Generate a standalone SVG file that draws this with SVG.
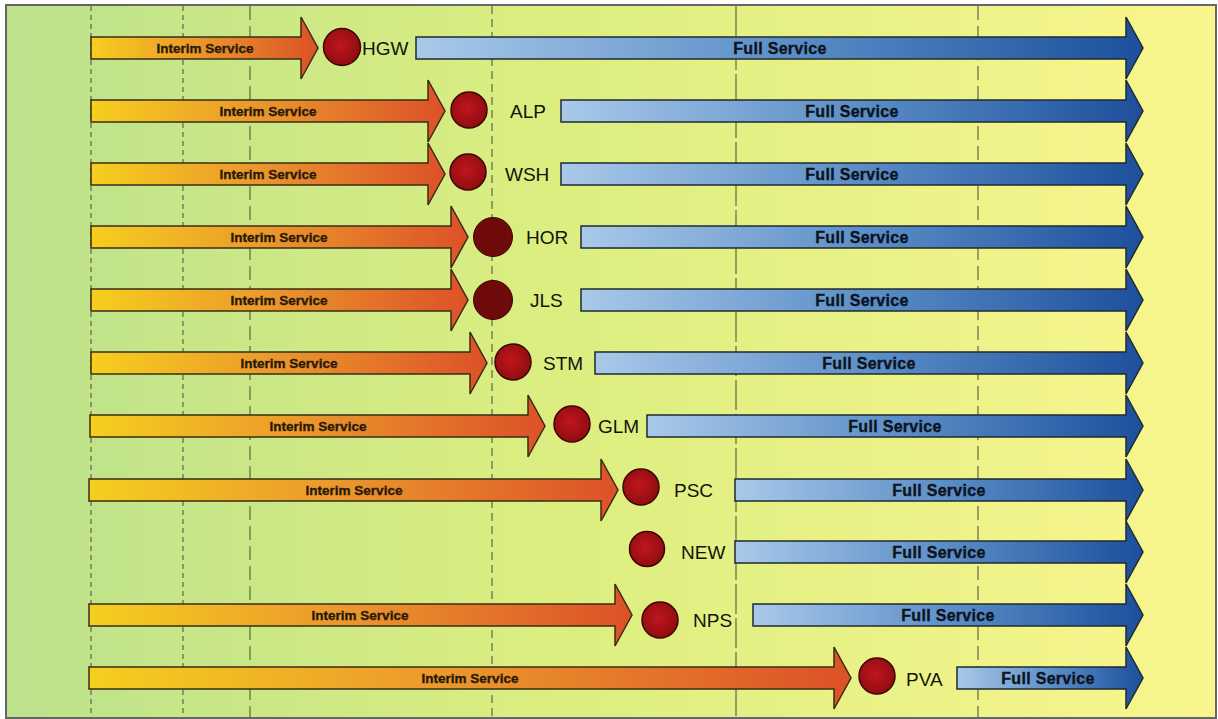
<svg xmlns="http://www.w3.org/2000/svg" width="1218" height="719" viewBox="0 0 1218 719">
<defs>
<linearGradient id="bg" x1="0" y1="0" x2="1" y2="0">
<stop offset="0" stop-color="#bce28c"/>
<stop offset="0.45" stop-color="#dcee80"/>
<stop offset="1" stop-color="#f9f68e"/>
</linearGradient>
<linearGradient id="gInt" x1="0" y1="0" x2="1" y2="0">
<stop offset="0" stop-color="#f6cf1e"/>
<stop offset="0.45" stop-color="#eb9a2c"/>
<stop offset="1" stop-color="#dc5128"/>
</linearGradient>
<linearGradient id="gFull" x1="0" y1="0" x2="1" y2="0">
<stop offset="0" stop-color="#a9c9e9"/>
<stop offset="0.5" stop-color="#5d8fc8"/>
<stop offset="1" stop-color="#1d4f9c"/>
</linearGradient>
<radialGradient id="gDot" cx="0.45" cy="0.45" r="0.6">
<stop offset="0" stop-color="#c0161c"/>
<stop offset="1" stop-color="#8c0c10"/>
</radialGradient>
</defs>
<style>
.int{fill:url(#gInt);stroke:#3a2c14;stroke-width:1.5;stroke-linejoin:miter}
.full{fill:url(#gFull);stroke:#1f2a30;stroke-width:1.5;stroke-linejoin:miter}
.dot{fill:url(#gDot);stroke:#3a0606;stroke-width:1.5}
.dotd{fill:#6e0a0a;stroke:#3a0606;stroke-width:1}
.ti{font-family:"Liberation Sans",Arial,sans-serif;font-weight:bold;font-size:13.5px;fill:#2a1a08;stroke:#2a1a08;stroke-width:0.35;text-anchor:middle}
.tf{font-family:"Liberation Sans",Arial,sans-serif;font-weight:bold;font-size:16px;fill:#0c1420;stroke:#0c1420;stroke-width:0.35;text-anchor:middle;letter-spacing:0.3px}
.code{font-family:"Liberation Sans",Arial,sans-serif;font-size:19px;fill:#14140a}
.grid{stroke:#4a4a3a;stroke-width:1;fill:none}
</style>
<rect x="0" y="0" width="1218" height="719" fill="#ffffff"/>
<rect x="6" y="5" width="1210" height="713" fill="url(#bg)" stroke="#666" stroke-width="2"/>
<g id="gridlines">
<line class="grid" x1="91" y1="6" x2="91" y2="717" stroke-dasharray="5 4"/>
<line class="grid" x1="183" y1="6" x2="183" y2="717" stroke-dasharray="5 4"/>
<line class="grid" x1="250" y1="6" x2="250" y2="717" stroke-dasharray="14 6"/>
<line class="grid" x1="492" y1="6" x2="492" y2="717" stroke-dasharray="8 5" stroke="#5a6a4a"/>
<line class="grid" x1="736" y1="6" x2="736" y2="717" stroke-dasharray="30 4"/>
<line class="grid" x1="978" y1="6" x2="978" y2="717" stroke-dasharray="14 6"/>
</g>
<g id="connectors">
<path class="int" d="M91,37 H301 V17 L318,48 L301,79 V59 H91 Z"/>
<path class="full" d="M416,37 H1126 V17 L1143,48 L1126,79 V59 H416 Z"/>
<path class="int" d="M91,100 H428 V80 L445,111 L428,142 V122 H91 Z"/>
<path class="full" d="M561,100 H1126 V80 L1143,111 L1126,142 V122 H561 Z"/>
<path class="int" d="M91,163 H428 V143 L445,174 L428,205 V185 H91 Z"/>
<path class="full" d="M561,163 H1126 V143 L1143,174 L1126,205 V185 H561 Z"/>
<path class="int" d="M91,226 H451 V206 L468,237 L451,268 V248 H91 Z"/>
<path class="full" d="M581,226 H1126 V206 L1143,237 L1126,268 V248 H581 Z"/>
<path class="int" d="M91,289 H451 V269 L468,300 L451,331 V311 H91 Z"/>
<path class="full" d="M581,289 H1126 V269 L1143,300 L1126,331 V311 H581 Z"/>
<path class="int" d="M91,352 H470 V332 L487,363 L470,394 V374 H91 Z"/>
<path class="full" d="M595,352 H1126 V332 L1143,363 L1126,394 V374 H595 Z"/>
<path class="int" d="M90,415 H528 V395 L545,426 L528,457 V437 H90 Z"/>
<path class="full" d="M647,415 H1126 V395 L1143,426 L1126,457 V437 H647 Z"/>
<path class="int" d="M89,479 H601 V459 L618,490 L601,521 V501 H89 Z"/>
<path class="full" d="M735,479 H1126 V459 L1143,490 L1126,521 V501 H735 Z"/>
<path class="full" d="M735,541 H1126 V521 L1143,552 L1126,583 V563 H735 Z"/>
<path class="int" d="M89,604 H615 V584 L632,615 L615,646 V626 H89 Z"/>
<path class="full" d="M753,604 H1126 V584 L1143,615 L1126,646 V626 H753 Z"/>
<path class="int" d="M89,667 H834 V647 L851,678 L834,709 V689 H89 Z"/>
<path class="full" d="M957,667 H1126 V647 L1143,678 L1126,709 V689 H957 Z"/>
</g>
<g id="labels">
<text class="ti" x="205" y="53">Interim Service</text>
<text class="tf" x="780" y="54">Full Service</text>
<text class="ti" x="268" y="116">Interim Service</text>
<text class="tf" x="852" y="117">Full Service</text>
<text class="ti" x="268" y="179">Interim Service</text>
<text class="tf" x="852" y="180">Full Service</text>
<text class="ti" x="279" y="242">Interim Service</text>
<text class="tf" x="862" y="243">Full Service</text>
<text class="ti" x="279" y="305">Interim Service</text>
<text class="tf" x="862" y="306">Full Service</text>
<text class="ti" x="289" y="368">Interim Service</text>
<text class="tf" x="869" y="369">Full Service</text>
<text class="ti" x="318" y="431">Interim Service</text>
<text class="tf" x="895" y="432">Full Service</text>
<text class="ti" x="354" y="495">Interim Service</text>
<text class="tf" x="939" y="496">Full Service</text>
<text class="tf" x="939" y="558">Full Service</text>
<text class="ti" x="360" y="620">Interim Service</text>
<text class="tf" x="948" y="621">Full Service</text>
<text class="ti" x="470" y="683">Interim Service</text>
<text class="tf" x="1048" y="684">Full Service</text>
</g>
<g id="node-HGW"><circle class="dot" cx="342" cy="47" r="18.5"/><text class="code" x="362" y="55">HGW</text></g>
<g id="node-ALP"><circle class="dot" cx="469" cy="110" r="18"/><text class="code" x="510" y="118">ALP</text></g>
<g id="node-WSH"><circle class="dot" cx="468" cy="172" r="18"/><text class="code" x="505" y="181">WSH</text></g>
<g id="node-HOR"><circle class="dotd" cx="493" cy="237" r="19.5"/><text class="code" x="526" y="244">HOR</text></g>
<g id="node-JLS"><circle class="dotd" cx="493" cy="300" r="19.5"/><text class="code" x="530" y="307">JLS</text></g>
<g id="node-STM"><circle class="dot" cx="513" cy="362" r="18"/><text class="code" x="543" y="370">STM</text></g>
<g id="node-GLM"><circle class="dot" cx="572" cy="424" r="18"/><text class="code" x="598" y="433">GLM</text></g>
<g id="node-PSC"><circle class="dot" cx="641" cy="487" r="18"/><text class="code" x="674" y="497">PSC</text></g>
<g id="node-NEW"><circle class="dot" cx="647" cy="549" r="17.5"/><text class="code" x="681" y="559">NEW</text></g>
<g id="node-NPS"><circle class="dot" cx="660" cy="620" r="18"/><text class="code" x="693" y="627">NPS</text></g>
<g id="node-PVA"><circle class="dot" cx="877" cy="676" r="18"/><text class="code" x="906" y="686">PVA</text></g>
</svg>
